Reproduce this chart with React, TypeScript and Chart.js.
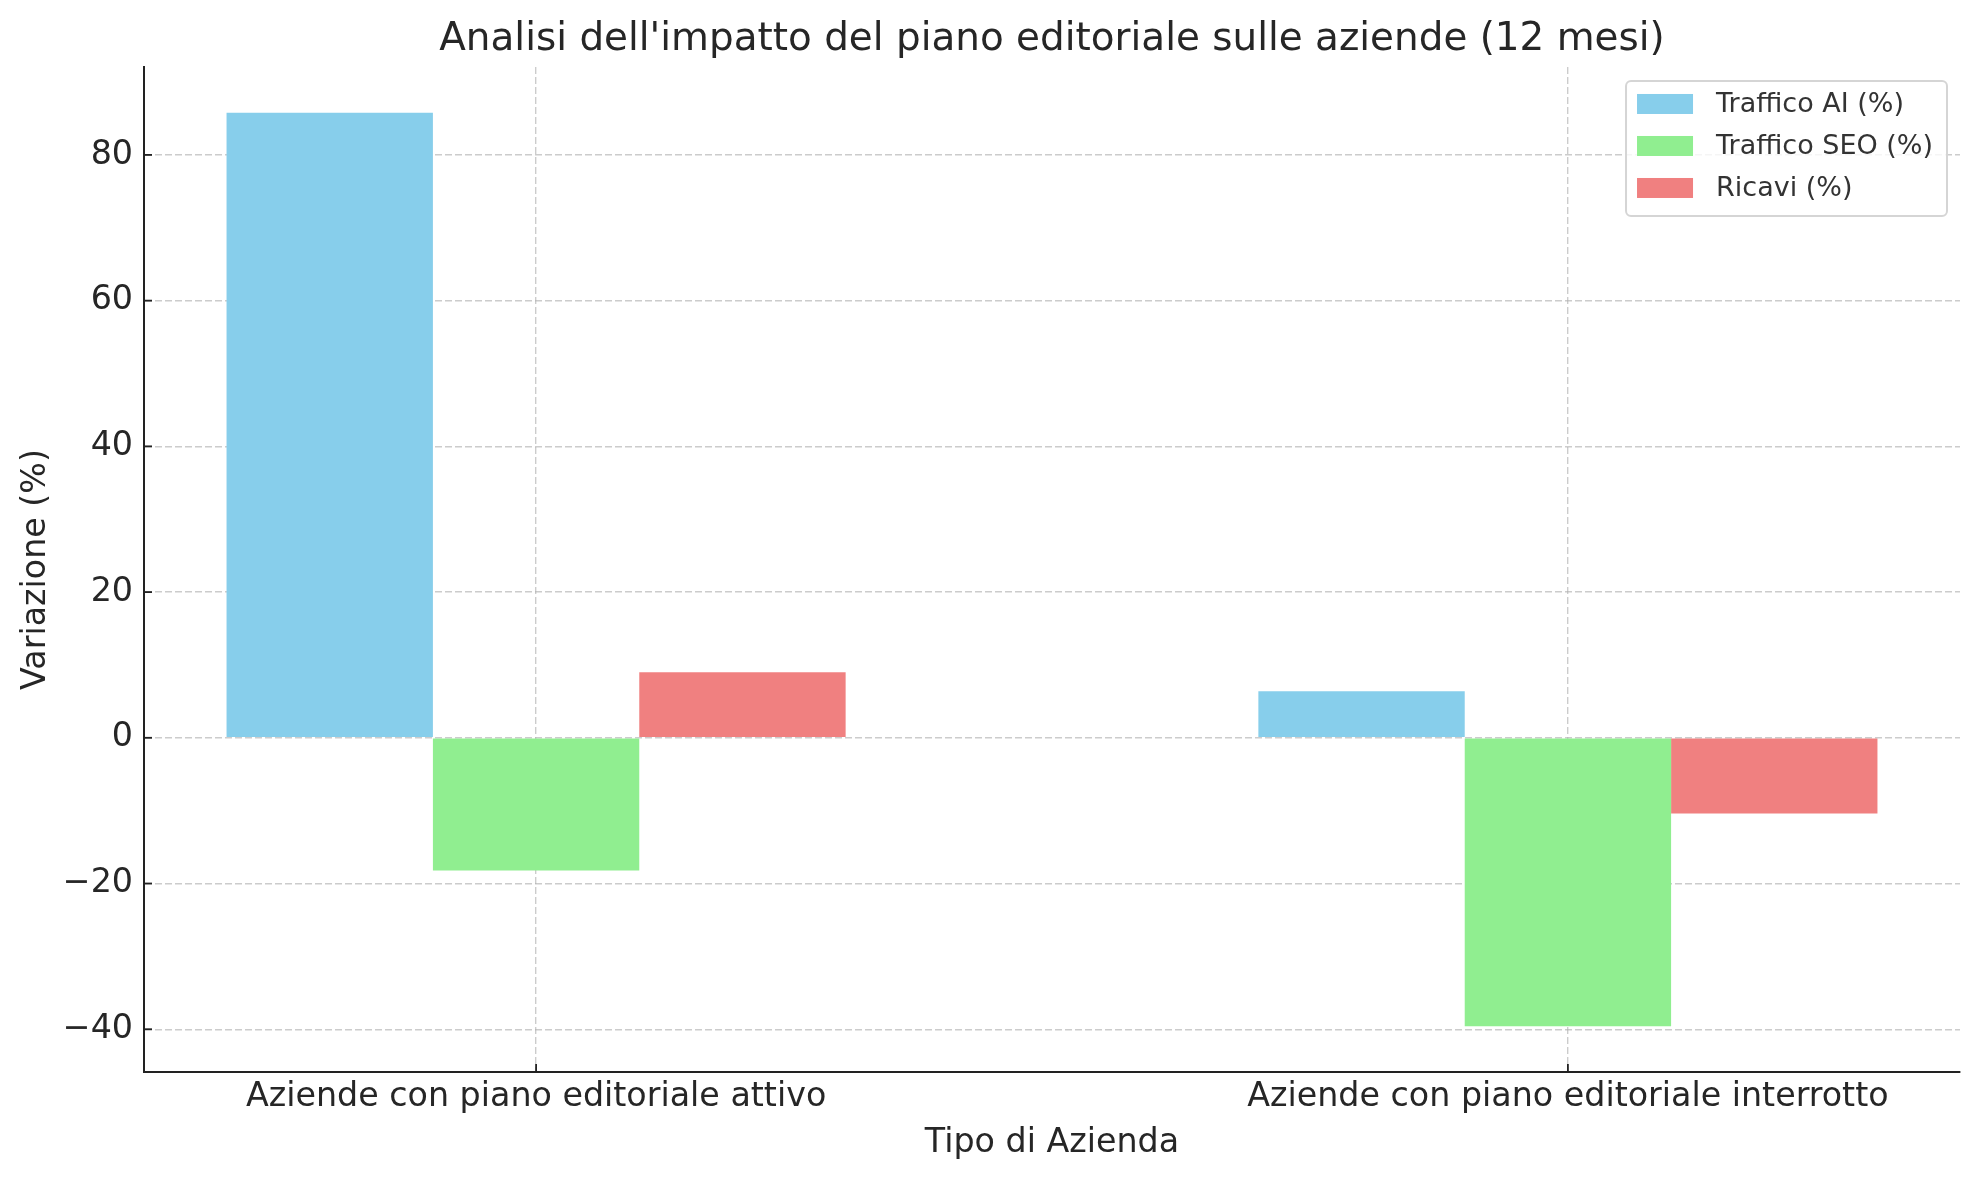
import React, { useEffect, useRef } from 'react';
import { Chart, registerables } from 'chart.js';

Chart.register(...registerables);

const categories = [
  'Aziende con piano editoriale attivo',
  'Aziende con piano editoriale interrotto',
];
const seriesLabels = ['Traffico AI (%)', 'Traffico SEO (%)', 'Ricavi (%)'];
const trafficoAI = [85.8, 6.4];
const trafficoSEO = [-18.2, -39.6];
const ricavi = [9.0, -10.4];
const yTicks = [-40, -20, 0, 20, 40, 60, 80];
const seriesColors = ['#87CEEB', '#90EE90', '#F08080'];

const chartTitle = "Analisi dell'impatto del piano editoriale sulle aziende (12 mesi)";
const xTitle = 'Tipo di Azienda';
const yTitle = 'Variazione (%)';

const FONT = "'DejaVu Sans', sans-serif";
const TEXT = '#262626';

const fmt = (v: number) => (v < 0 ? '\u2212' + Math.abs(v) : String(v));

const innerTicks = {
  id: 'innerTicks',
  afterDraw(chart: any) {
    const { ctx, chartArea, scales } = chart;
    ctx.save();
    ctx.strokeStyle = '#222';
    ctx.lineWidth = 1.8;
    const L = 8;
    scales.y.ticks.forEach((t: any) => {
      const py = scales.y.getPixelForValue(t.value);
      ctx.beginPath();
      ctx.moveTo(chartArea.left, py);
      ctx.lineTo(chartArea.left + L, py);
      ctx.stroke();
    });
    scales.x.ticks.forEach((t: any) => {
      const px = scales.x.getPixelForValue(t.value);
      ctx.beginPath();
      ctx.moveTo(px, chartArea.bottom);
      ctx.lineTo(px, chartArea.bottom - L);
      ctx.stroke();
    });
    ctx.restore();
  },
};

const mplLegend = {
  id: 'mplLegend',
  afterDraw(chart: any) {
    const { ctx, chartArea } = chart;
    const ds = chart.data.datasets;
    ctx.save();
    ctx.font = `27px ${FONT}`;
    let maxW = 0;
    ds.forEach((d: any) => {
      maxW = Math.max(maxW, ctx.measureText(d.label).width);
    });
    const padL = 11, patchW = 56, patchH = 20, gap = 23, padR = 14;
    const rowH = 42, firstRow = 23, padB = 28;
    const w = padL + patchW + gap + maxW + padR;
    const h = firstRow + rowH * (ds.length - 1) + padB;
    const right = chartArea.right - 13;
    const top = chartArea.top + 14;
    const left = right - w;
    ctx.beginPath();
    (ctx as any).roundRect(left, top, w, h, 5);
    ctx.fillStyle = 'rgba(255,255,255,0.8)';
    ctx.fill();
    ctx.strokeStyle = '#d5d5d5';
    ctx.lineWidth = 2;
    ctx.stroke();
    ds.forEach((d: any, i: number) => {
      const cy = top + firstRow + i * rowH;
      ctx.fillStyle = d.backgroundColor;
      ctx.fillRect(left + padL, cy - patchH / 2, patchW, patchH);
      ctx.fillStyle = '#333';
      ctx.textBaseline = 'middle';
      ctx.textAlign = 'left';
      ctx.fillText(d.label, left + padL + patchW + gap, cy + 1);
    });
    ctx.restore();
  },
};

export default function App() {
  const ref = useRef<HTMLCanvasElement>(null);

  useEffect(() => {
    if (!ref.current) return;
    const seriesValues = [trafficoAI, trafficoSEO, ricavi];
    const all = seriesValues.flat().concat([0]);
    const lo = Math.min(...all);
    const hi = Math.max(...all);
    const m = (hi - lo) * 0.05;
    const barW = 0.2;
    const xlo = -1.5 * barW;
    const xhi = categories.length - 1 + 1.5 * barW;
    const xm = (xhi - xlo) * 0.05;

    const chart = new Chart(ref.current, {
      type: 'bar',
      data: {
        datasets: seriesValues.map((vals, k) => ({
          label: seriesLabels[k],
          data: vals.map((v, i) => ({ x: i, y: v })),
          backgroundColor: seriesColors[k],
          borderWidth: 0,
          categoryPercentage: 0.6,
          barPercentage: 1.0,
          grouped: true,
        })),
      },
      options: {
        responsive: false,
        animation: false,
        layout: { padding: { left: 0, right: 20, top: 0, bottom: 0 } },
        plugins: {
          legend: { display: false },
          tooltip: { enabled: false },
          title: {
            display: true,
            fullSize: false,
            align: 'center',
            text: chartTitle,
            color: TEXT,
            font: { family: FONT, size: 38.9, weight: 'normal' },
            padding: { top: 16.5, bottom: 3.8 },
          },
        },
        scales: {
          x: {
            type: 'linear',
            min: xlo - xm,
            max: xhi + xm,
            offset: false,
            z: 1,
            afterBuildTicks: (s: any) => {
              s.ticks = categories.map((_, i) => ({ value: i }));
            },
            afterFit: (s: any) => {
              s.height = 108;
            },
            ticks: {
              callback: (v: any) => categories[Number(v)] ?? '',
              color: TEXT,
              font: { family: FONT, size: 33.3 },
              maxRotation: 0,
              autoSkip: false,
              padding: 5,
            },
            grid: {
              offset: false,
              color: 'rgba(176,176,176,0.65)',
              lineWidth: 1.4,
              drawTicks: false,
            },
            border: { display: true, color: '#222', width: 2, dash: [7, 3] },
            title: {
              display: true,
              text: xTitle,
              color: TEXT,
              font: { family: FONT, size: 33.3 },
              padding: { top: 0, bottom: 16.4 },
            },
          },
          y: {
            type: 'linear',
            min: lo - m,
            max: hi + m,
            z: 1,
            afterBuildTicks: (s: any) => {
              s.ticks = yTicks.map((v) => ({ value: v }));
            },
            afterFit: (s: any) => {
              s.width = 144;
            },
            ticks: {
              callback: (v: any) => fmt(Number(v)),
              color: TEXT,
              font: { family: FONT, size: 33.3 },
              padding: 11,
            },
            grid: {
              color: 'rgba(176,176,176,0.65)',
              lineWidth: 1.4,
              drawTicks: false,
            },
            border: { display: true, color: '#222', width: 2, dash: [7, 3] },
            title: {
              display: true,
              text: yTitle,
              color: TEXT,
              font: { family: FONT, size: 33.3 },
              padding: { top: 16, bottom: 0 },
            },
          },
        },
      } as any,
      plugins: [innerTicks, mplLegend],
    });
    return () => chart.destroy();
  }, []);

  return (
    <div style={{ position: 'absolute', left: 0, top: 0, width: 1980, height: 1180 }}>
      <canvas ref={ref} width={1980} height={1180} style={{ display: 'block' }} />
    </div>
  );
}
